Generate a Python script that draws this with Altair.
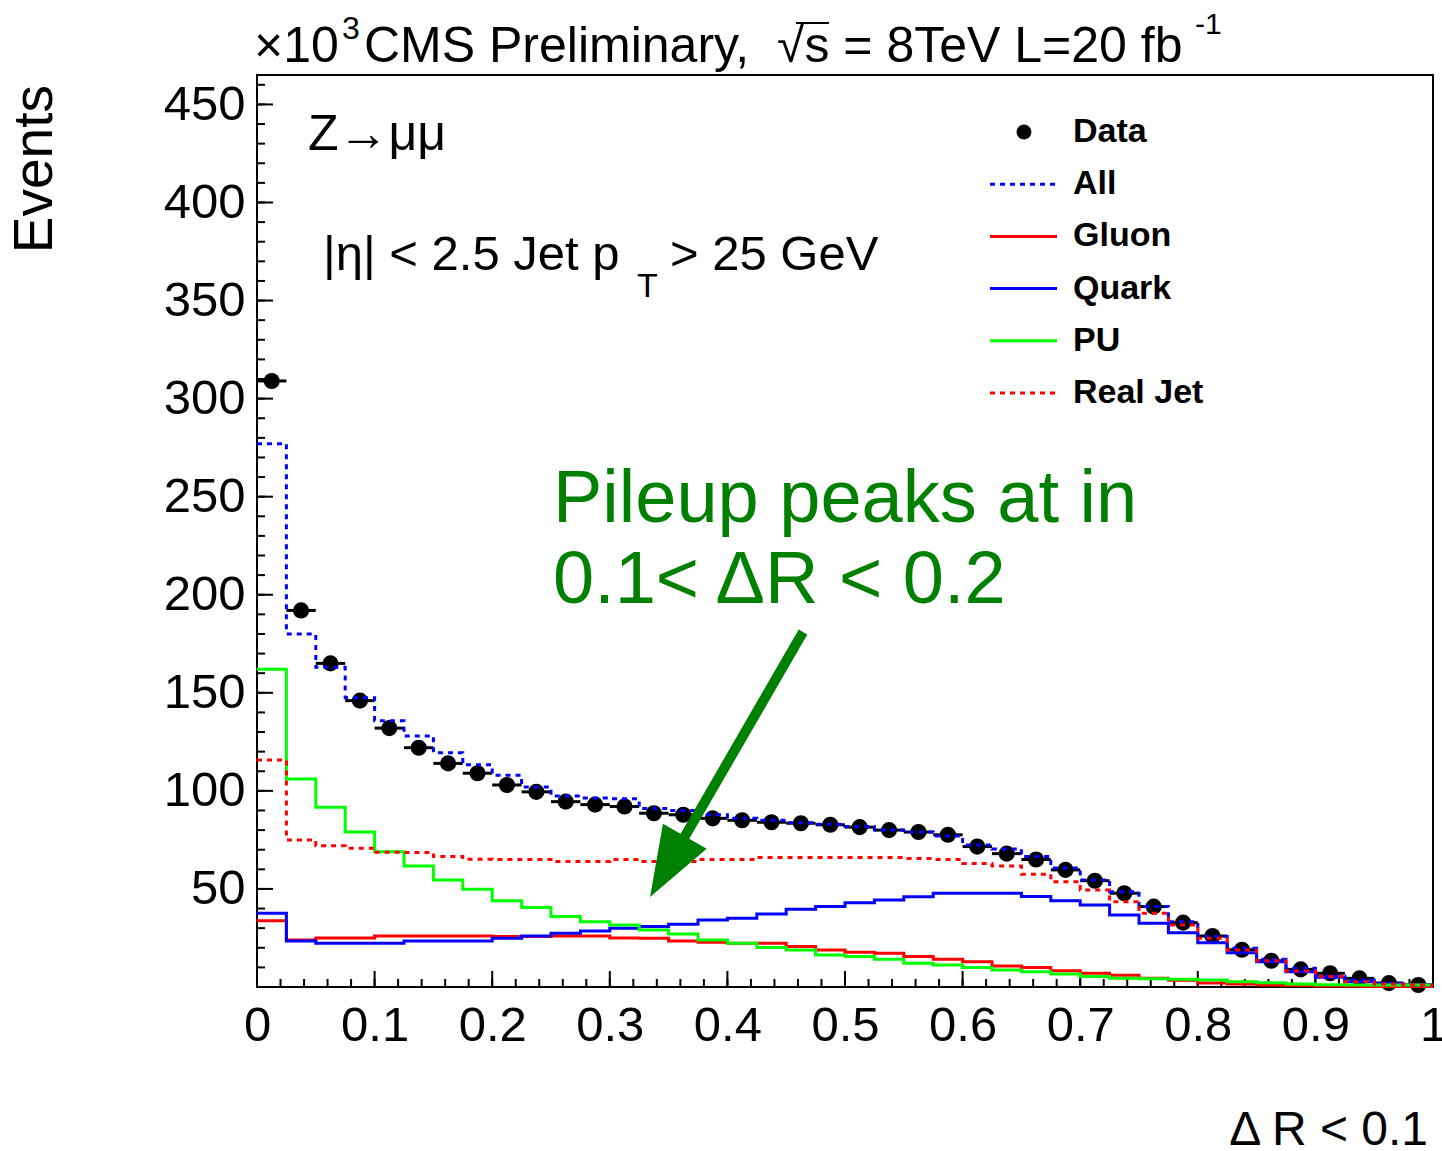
import altair as alt
import pandas as pd

# ---------------- data ----------------
bin_width = 0.025
n_bins = 40

data_vals = [309, 192, 165, 146, 132, 122, 114, 109, 103, 99.5,
             94.5, 93, 92, 88.6, 87.8, 86, 85, 84, 83.5, 82.7,
             81.5, 80, 79, 77.6, 71.6, 68, 65, 59.7, 54.2, 47.8,
             41, 32.8, 26, 19, 13.4, 9, 7, 4.4, 2, 1]

all_vals = [277, 180, 163, 147.5, 135.7, 128, 119.4, 113.3, 108, 102,
            97.4, 96.4, 96, 91, 90, 87.8, 86, 85, 83.8, 83,
            81.8, 80, 79, 77, 72.4, 70.4, 66.5, 60.7, 54.6, 48.6,
            41, 33.3, 25.7, 19.7, 14.1, 9.5, 5.6, 3.6, 1.9, 1]

gluon_vals = [33.8, 24, 25, 25, 26, 26, 26, 26, 25.7, 25.7,
              26, 26, 25, 24.8, 23.5, 22.8, 22.3, 22.3, 20.6, 18.9,
              17.7, 17.2, 15.5, 14.1, 12.9, 10.7, 10, 8.3, 7, 6,
              4.5, 3.5, 2, 1.5, 1, 0.8, 0.5, 0.4, 0.3, 0.2]

quark_vals = [37.6, 23.5, 22.3, 22.3, 22.3, 23.5, 23.5, 23.5, 24.8, 26,
              27.4, 28.6, 29.9, 30.8, 32, 34.2, 35, 37.2, 39.6, 41,
              43, 44.4, 46, 47.8, 47.8, 47.8, 46.2, 44, 41.8, 36.7,
              32.5, 27.7, 22.6, 17.5, 12.9, 7.8, 5, 2.7, 1.5, 1]

pu_vals = [162, 106, 91.7, 79, 69, 61.7, 54.6, 49.8, 44, 40.5,
           35.9, 33.3, 31.6, 29, 27, 24, 22.3, 20.2, 18.9, 16.3,
           15.5, 14.1, 12.1, 11.2, 10, 8.7, 7.8, 6.6, 5.3, 4.4,
           4.2, 3.9, 3.6, 2.7, 2.2, 1.5, 1.2, 1, 1, 1]

realjet_vals = [115.8, 75, 72, 70.8, 68.7, 68.6, 66.5, 65.1, 65, 65,
                64, 64, 65, 64, 64, 65, 65, 66, 66, 66,
                66, 66, 65.5, 65, 63, 61.7, 57.5, 53.7, 49.5, 43.5,
                37.6, 31.6, 24.8, 18.9, 13.4, 8.2, 5.3, 2.7, 1.5, 1]

x_tick_labels = [0, 0.1, 0.2, 0.3, 0.4, 0.5, 0.6, 0.7, 0.8, 0.9, 1]
y_tick_labels = [50, 100, 150, 200, 250, 300, 350, 400, 450]
x_minor = [i / 50 for i in range(51)]
y_minor = [i * 10 for i in range(47)]

legend_names = ["Data", "All", "Gluon", "Quark", "PU", "Real Jet"]

# arrow annotation (data coordinates)
arrow_start = (0.4643, 181.0)
arrow_head = (0.349, 61.4)

# ---------------- layout ----------------
W, H = 1176, 912
FONT = "Liberation Sans"
GREEN = "#008000"

xscale = alt.Scale(domain=[0, 1], nice=False, zero=False)
yscale = alt.Scale(domain=[0, 465], nice=False, zero=False)
xaxis = alt.Axis(values=x_tick_labels, format="~g", ticks=False, domain=False,
                 grid=False, labelFont=FONT, labelFontSize=49, labelColor="black",
                 labelPadding=14, title=None, labelFlush=False, labelOverlap=False)
yaxis = alt.Axis(values=y_tick_labels, ticks=False, domain=False, grid=False,
                 labelFont=FONT, labelFontSize=49, labelColor="black",
                 labelPadding=12, title=None, labelOverlap=False)


def X(f):
    return alt.X(f, type="quantitative", scale=xscale, axis=xaxis)


def Y(f):
    return alt.Y(f, type="quantitative", scale=yscale, axis=yaxis)


edges = [round(i * bin_width, 4) for i in range(n_bins + 1)]
centers = [round((i + 0.5) * bin_width, 4) for i in range(n_bins)]


def step_df(vals):
    return pd.DataFrame({"x": edges, "y": list(vals) + [vals[-1]]})


layers = []

# ticks (inward, ROOT style)
xmaj = pd.DataFrame({"x": x_tick_labels})
xmin = pd.DataFrame({"x": x_minor})
ymaj = pd.DataFrame({"y": [0] + y_tick_labels})
ymin = pd.DataFrame({"y": y_minor})
layers.append(alt.Chart(xmin).mark_rule(color="black", strokeWidth=2).encode(
    x=X("x"), y=alt.value(H), y2=alt.value(H - 8)))
layers.append(alt.Chart(xmaj).mark_rule(color="black", strokeWidth=2).encode(
    x=X("x"), y=alt.value(H), y2=alt.value(H - 16)))
layers.append(alt.Chart(ymin).mark_rule(color="black", strokeWidth=2).encode(
    y=Y("y"), x=alt.value(0), x2=alt.value(8)))
layers.append(alt.Chart(ymaj).mark_rule(color="black", strokeWidth=2).encode(
    y=Y("y"), x=alt.value(0), x2=alt.value(16)))

# data points with horizontal bars
pts = pd.DataFrame({"x": centers,
                    "lo": edges[:-1], "hi": edges[1:], "y": data_vals})
layers.append(alt.Chart(pts).mark_rule(color="black", strokeWidth=3).encode(
    x=X("lo"), x2="hi:Q", y=Y("y")))
layers.append(alt.Chart(pts).mark_circle(color="black", size=260, opacity=1).encode(
    x=X("x"), y=Y("y")))

# histograms
series = [
    (all_vals, "#0000ff", [5, 5]),
    (gluon_vals, "#ff0000", None),
    (quark_vals, "#0000ff", None),
    (pu_vals, "#00ff00", None),
    (realjet_vals, "#ff0000", [5, 5]),
]
for vals, col, dash in series:
    kw = dict(interpolate="step-after", color=col, strokeWidth=3)
    if dash:
        kw["strokeDash"] = dash
    layers.append(alt.Chart(step_df(vals)).mark_line(**kw).encode(
        x=X("x"), y=Y("y")))


def txt(s, x, y, size, **kw):
    props = dict(font=FONT, fontSize=size, color="black", align="left",
                 baseline="alphabetic")
    props.update(kw)
    return alt.Chart(pd.DataFrame({"t": [s]})).mark_text(**props).encode(
        x=alt.value(x), y=alt.value(y), text="t:N")


# title
layers.append(txt("×10", -3, -13, 50))
layers.append(txt("3", 85, -36, 32))
layers.append(txt("CMS Preliminary,\u00a0 √s = 8TeV L=20 fb", 107, -13, 50))
layers.append(txt("-1", 938, -41, 30))
# overline of the square root
layers.append(alt.Chart(pd.DataFrame({"a": [0]})).mark_rule(
    color="black", strokeWidth=2).encode(
    x=alt.value(539), x2=alt.value(572), y=alt.value(-52)))

# axis titles
layers.append(txt("Events", -222, 10, 55, angle=270, align="right",
                  baseline="middle"))
layers.append(txt("Δ R < 0.1", 1171, 1070, 48, align="right"))

# in-plot labels
layers.append(txt("Z→μμ", 51, 75, 50))
layers.append(txt("|η| < 2.5 Jet p", 66, 195, 49))
layers.append(txt("T", 380, 222, 34))
layers.append(txt("> 25 GeV", 413, 195, 49))

# legend
row_y = [57 + i * 52.2 for i in range(len(legend_names))]
styles = [None, ("#0000ff", [5, 5]), ("#ff0000", None), ("#0000ff", None),
          ("#00ff00", None), ("#ff0000", [5, 5])]
for name, ry, st in zip(legend_names, row_y, styles):
    if st is None:
        layers.append(alt.Chart(pd.DataFrame({"a": [0]})).mark_circle(
            color="black", size=220, opacity=1).encode(
            x=alt.value(767), y=alt.value(ry)))
    else:
        col, dash = st
        kw = dict(color=col, strokeWidth=3)
        if dash:
            kw["strokeDash"] = dash
        layers.append(alt.Chart(pd.DataFrame({"a": [0]})).mark_rule(**kw).encode(
            x=alt.value(733), x2=alt.value(800), y=alt.value(ry)))
    layers.append(txt(name, 816, ry, 34, fontWeight="bold", baseline="middle"))

# green annotation
layers.append(txt("Pileup peaks at in", 296, 447, 74, color=GREEN))
layers.append(txt("0.1< ΔR < 0.2", 296, 528, 74, color=GREEN))

arrow_df = pd.DataFrame({"x": [arrow_start[0]], "y": [arrow_start[1]],
                         "x2": [arrow_head[0]], "y2": [arrow_head[1]]})
layers.append(alt.Chart(arrow_df).mark_rule(color=GREEN, strokeWidth=10).encode(
    x=X("x"), y=Y("y"), x2="x2:Q", y2="y2:Q"))
head_df = pd.DataFrame({"x": [arrow_head[0]], "y": [arrow_head[1]]})
layers.append(alt.Chart(head_df).mark_point(
    shape="M0,-1L-0.72,1L0.72,1Z", filled=True, size=4900, angle=209.8,
    color=GREEN, opacity=1, strokeWidth=0).encode(x=X("x"), y=Y("y")))

chart = alt.layer(*layers).properties(
    width=W, height=H,
    autosize=alt.AutoSizeParams(type="none"),
    padding={"left": 257, "top": 75, "right": 9, "bottom": 164},
    background="white",
).configure_view(stroke="black", strokeWidth=2)

chart.save("out.html", embed_options={"renderer": "svg", "actions": False})
